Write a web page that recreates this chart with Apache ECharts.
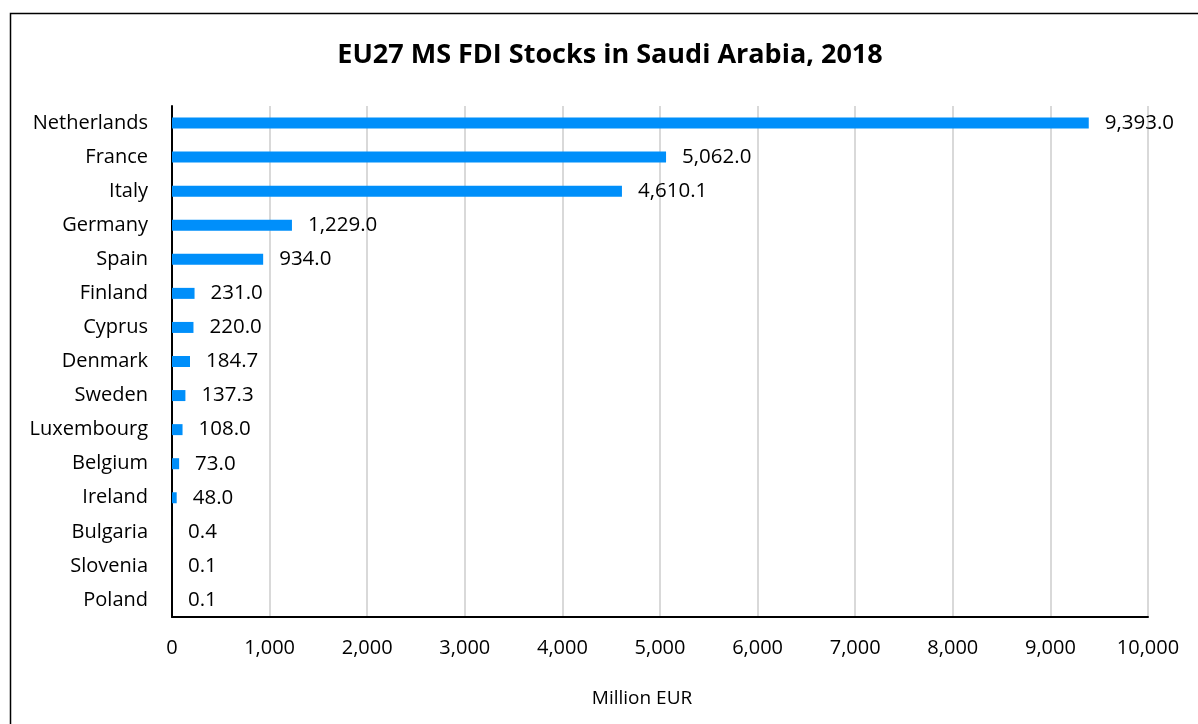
<!DOCTYPE html>
<html>
<head>
<meta charset="utf-8">
<script src="https://cdn.jsdelivr.net/npm/echarts@6/dist/echarts.min.js"></script>
<style>
  html, body { margin: 0; padding: 0; background: #fff; }
  #chart { width: 1198px; height: 724px; }
</style>
</head>
<body>
<div id="chart"></div>
<script>
// 国家与数值（自上而下）
const countries = ['Netherlands', 'France', 'Italy', 'Germany', 'Spain', 'Finland', 'Cyprus', 'Denmark',
  'Sweden', 'Luxembourg', 'Belgium', 'Ireland', 'Bulgaria', 'Slovenia', 'Poland']
const stocks = [9393.0, 5062.0, 4610.1, 1229.0, 934.0, 231.0, 220.0, 184.7, 137.3, 108.0, 73.0, 48.0, 0.4, 0.1, 0.1]
const xTicks = [0, 1000, 2000, 3000, 4000, 5000, 6000, 7000, 8000, 9000, 10000]

const font = '"Open Sans", sans-serif'
const fmt = (v, d) => v.toLocaleString('en-US', { minimumFractionDigits: d, maximumFractionDigits: d })

const chart = echarts.init(document.getElementById('chart'))
chart.setOption({
  animation: false,
  textStyle: { fontFamily: font },
  grid: {
    left: 172,
    right: 50,
    top: 106,
    bottom: 107
  },
  graphic: [
    {
      type: 'rect',
      shape: { x: 10.5, y: 13.5, width: 1220, height: 740 },
      style: { fill: 'none', stroke: '#000', lineWidth: 1.5 },
      silent: true
    },
    {
      type: 'text',
      x: 610,
      y: 55,
      style: {
        text: 'EU27 MS FDI Stocks in Saudi Arabia, 2018',
        font: 'bold 27px ' + font,
        fill: '#000',
        textAlign: 'center',
        textVerticalAlign: 'middle'
      }
    },
    {
      type: 'text',
      x: 642,
      y: 699,
      style: {
        text: 'Million EUR',
        font: '19px ' + font,
        fill: '#000',
        textAlign: 'center',
        textVerticalAlign: 'middle'
      }
    }
  ],
  xAxis: {
    type: 'value',
    min: xTicks[0],
    max: xTicks[xTicks.length - 1],
    interval: xTicks[1] - xTicks[0],
    axisLine: { show: true, onZero: false, lineStyle: { color: '#000', width: 2 } },
    axisTick: { show: false },
    splitLine: { lineStyle: { color: '#d9d9d9', width: 2 } },
    axisLabel: {
      margin: 21,
      color: '#000',
      fontSize: 20,
      formatter: v => fmt(v, 0)
    }
  },
  yAxis: {
    type: 'category',
    inverse: true,
    data: countries,
    axisLine: { show: true, lineStyle: { color: '#000', width: 2 } },
    axisTick: { show: false },
    axisLabel: {
      margin: 24,
      color: '#000',
      fontSize: 20
    }
  },
  series: [{
    type: 'bar',
    data: stocks,
    barWidth: 11,
    itemStyle: { color: '#008ffa' },
    label: {
      show: true,
      position: 'right',
      distance: 16,
      color: '#000',
      fontSize: 20.5,
      formatter: p => fmt(p.value, 1)
    }
  }]
})
</script>
</body>
</html>
